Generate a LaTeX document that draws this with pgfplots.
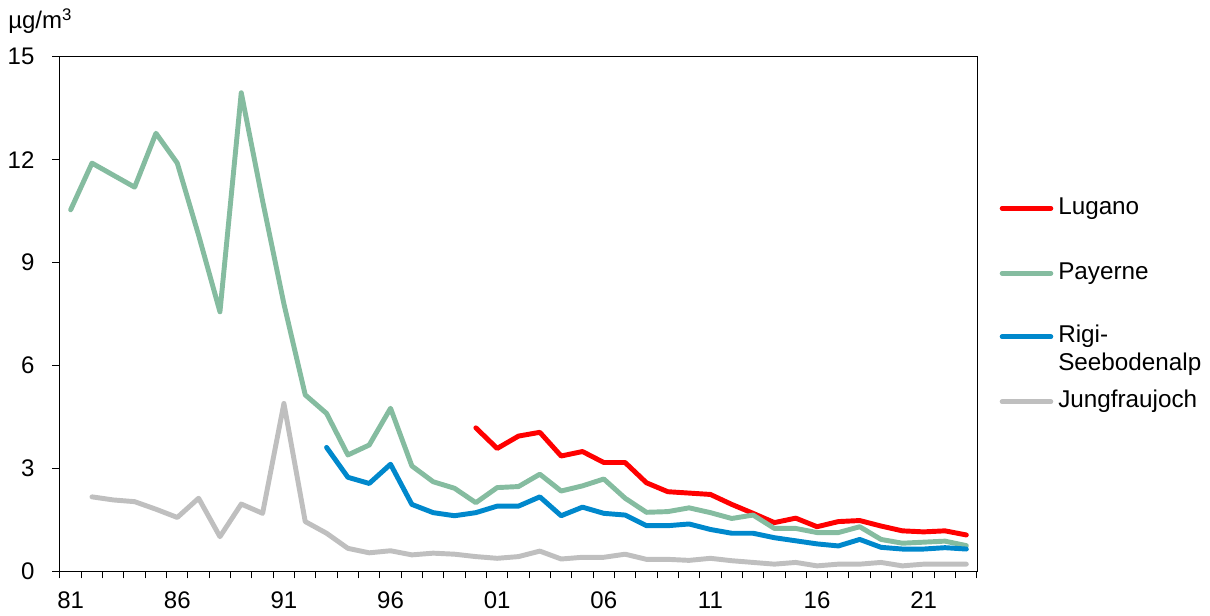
\documentclass[border=0pt]{standalone}
\usepackage{fontspec}
\setmainfont{Liberation Sans}
\usepackage{pgfplots}
\pgfplotsset{compat=1.18}
\usepackage{pgfplotstable}
\definecolor{cLug}{RGB}{255,0,0}
\definecolor{cPay}{RGB}{133,188,160}
\definecolor{cRig}{RGB}{0,136,204}
\definecolor{cJun}{RGB}{191,191,191}
\pgfplotstableread{
year val
2000 4.19
2001 3.59
2002 3.95
2003 4.06
2004 3.37
2005 3.50
2006 3.18
2007 3.18
2008 2.59
2009 2.33
2010 2.29
2011 2.25
2012 1.96
2013 1.70
2014 1.43
2015 1.56
2016 1.31
2017 1.46
2018 1.49
2019 1.33
2020 1.19
2021 1.16
2022 1.19
2023 1.07
}\lugano
\pgfplotstableread{
year val
1981 10.54
1982 11.90
1983 11.55
1984 11.20
1985 12.77
1986 11.90
1987 9.80
1988 7.57
1989 13.95
1990 10.80
1991 7.80
1992 5.15
1993 4.61
1994 3.40
1995 3.69
1996 4.76
1997 3.08
1998 2.62
1999 2.43
2000 2.01
2001 2.45
2002 2.48
2003 2.84
2004 2.35
2005 2.50
2006 2.70
2007 2.14
2008 1.73
2009 1.75
2010 1.86
2011 1.72
2012 1.55
2013 1.65
2014 1.26
2015 1.26
2016 1.14
2017 1.14
2018 1.31
2019 0.94
2020 0.83
2021 0.86
2022 0.89
2023 0.76
}\payerne
\pgfplotstableread{
year val
1993 3.62
1994 2.75
1995 2.57
1996 3.13
1997 1.96
1998 1.72
1999 1.63
2000 1.72
2001 1.91
2002 1.91
2003 2.18
2004 1.63
2005 1.88
2006 1.70
2007 1.65
2008 1.34
2009 1.34
2010 1.39
2011 1.23
2012 1.12
2013 1.12
2014 0.99
2015 0.90
2016 0.81
2017 0.75
2018 0.94
2019 0.71
2020 0.66
2021 0.66
2022 0.70
2023 0.66
}\rigi
\pgfplotstableread{
year val
1982 2.18
1983 2.09
1984 2.04
1985 1.82
1986 1.58
1987 2.14
1988 1.02
1989 1.97
1990 1.70
1991 4.90
1992 1.46
1993 1.12
1994 0.68
1995 0.55
1996 0.61
1997 0.49
1998 0.54
1999 0.51
2000 0.44
2001 0.39
2002 0.44
2003 0.60
2004 0.37
2005 0.42
2006 0.42
2007 0.51
2008 0.36
2009 0.36
2010 0.33
2011 0.39
2012 0.32
2013 0.27
2014 0.22
2015 0.27
2016 0.17
2017 0.22
2018 0.22
2019 0.27
2020 0.17
2021 0.22
2022 0.22
2023 0.22
}\jungfrau
\begin{document}
\begin{tikzpicture}[x=0.75pt,y=0.75pt]
\begin{axis}[
  at={(0,0)}, anchor=south west,
  scale only axis,
  width=687.75pt, height=386.25pt,
  xmin=1980.5, xmax=2023.5,
  ymin=0, ymax=15,
  ytick={0,3,6,9,12,15},
  xtick={1981,1986,1991,1996,2001,2006,2011,2016,2021},
  xticklabels={81,86,91,96,01,06,11,16,21},
  minor xtick={1980.5,1981.5,...,2023.5},
  xtick pos=lower, ytick pos=left,
  tick align=outside,
  major tick length=5.8pt,
  minor tick length=5pt,
  major x tick style={draw=none},
  minor x tick style={black, line width=0.75pt},
  major y tick style={black, line width=0.75pt},
  axis line style={black, line width=0.75pt},
  tick label style={font=\fontsize{18}{20}\selectfont},
  /pgf/number format/assume math mode=true,
  yticklabel style={anchor=east, inner sep=0pt, xshift=-13.2pt},
  xticklabel style={anchor=north, inner sep=0pt, yshift=-9pt},
  every axis plot/.append style={line width=3.7pt, line join=round, line cap=round},
]
\addplot[cLug] table[x=year,y=val]{\lugano};
\addplot[cPay] table[x=year,y=val]{\payerne};
\addplot[cRig] table[x=year,y=val]{\rigi};
\addplot[cJun] table[x=year,y=val]{\jungfrau};
\end{axis}
% unit label
\node[anchor=base west, inner sep=0pt, font=\fontsize{18}{20}\selectfont] at (-52,543) {µg/m\textsuperscript{3}};
% legend
\begin{scope}[line width=3.4pt, line cap=round]
\draw[cLug] (942,363.4) -- (991,363.4);
\draw[cPay] (942,298.4) -- (991,298.4);
\draw[cRig] (942,235) -- (991,235);
\draw[cJun] (942,170) -- (991,170);
\end{scope}
\begin{scope}[every node/.style={anchor=west, inner sep=0pt, font=\fontsize{18.2}{20}\selectfont}]
\node at (998,363.4) {Lugano};
\node at (998,298.4) {Payerne};
\node at (998,235) {Rigi-};
\node at (998,207) {Seebodenalp};
\node at (998,170) {Jungfraujoch};
\end{scope}
\pgfresetboundingbox
\path[use as bounding box] (-60,-43.3) rectangle (1150,571.7);
\end{tikzpicture}
\end{document}
